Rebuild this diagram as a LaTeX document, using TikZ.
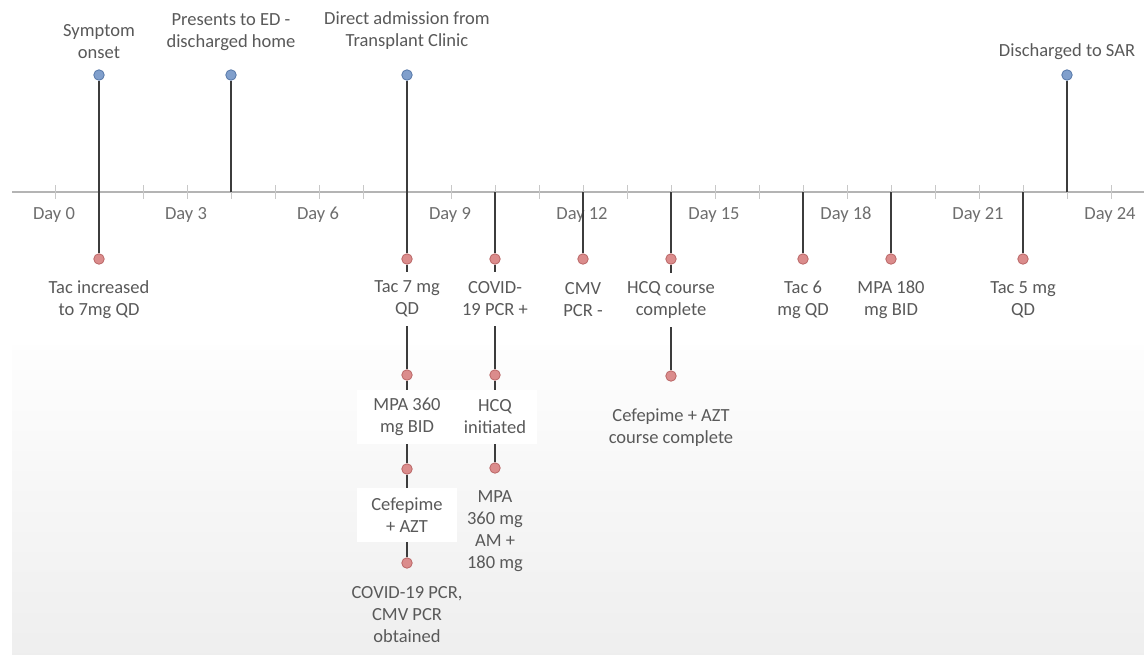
\documentclass[tikz,border=0pt]{standalone}
\usepackage{fontspec}
\setmainfont{Carlito}
\definecolor{txt}{HTML}{595959}
\definecolor{daytxt}{HTML}{6E6E6E}
\definecolor{stemcol}{HTML}{3C3C3C}
\definecolor{axiscol}{HTML}{B4B4B4}
\definecolor{tickcol}{HTML}{C8C8C8}
\definecolor{bluefill}{HTML}{809FCC}
\definecolor{blueline}{HTML}{5577A8}
\definecolor{redfill}{HTML}{DB8C8C}
\definecolor{redline}{HTML}{BA6666}
\begin{document}
\begin{tikzpicture}[x=1pt,y=-1pt,
  font=\fontsize{18.5}{22}\selectfont,
  lbl/.style={text=txt,align=center,inner sep=2pt},
  gaplbl/.style={lbl,fill=white,minimum width=100pt,minimum height=54pt,inner sep=0pt},
  daylbl/.style={text=daytxt,inner sep=1pt},
  bdot/.style={circle,minimum size=10.5pt,inner sep=0pt,fill=bluefill,draw=blueline,line width=0.8pt},
  rdot/.style={circle,minimum size=10.5pt,inner sep=0pt,fill=redfill,draw=redline,line width=0.8pt},
  stem/.style={draw=stemcol,line width=1.6pt},
  axisline/.style={draw=axiscol,line width=1.3pt},
  tickmark/.style={draw=tickcol,line width=0.8pt}]
\useasboundingbox (0,0) rectangle (1144,654);
\fill[white] (0,0) rectangle (1144,654);
\shade[top color=white!99.5!black,bottom color=white!93.5!black] (12,345) rectangle (1144,654);

% axis and ticks
\draw[axisline] (12,192) -- (1144,192);
\foreach \d in {0,...,24}{\draw[tickmark] ({55+44*\d},185) -- ({55+44*\d},199);}
\foreach \d in {0,3,...,24}{\node[daylbl] (day\d) at ({54+44*\d},215) {Day \d};}

% axis coordinates
\coordinate (a1) at (99,192);
\coordinate (a4) at (231,192);
\coordinate (a8) at (407,192);
\coordinate (a10) at (495,192);
\coordinate (a12) at (583,192);
\coordinate (a14) at (671,192);
\coordinate (a17) at (803,192);
\coordinate (a19) at (891,192);
\coordinate (a22) at (1023,192);
\coordinate (a23) at (1067,192);

% dots above
\node[bdot] (t1) at (99,75) {};
\node[bdot] (t4) at (231,75) {};
\node[bdot] (t8) at (407,75) {};
\node[bdot] (t23) at (1067,75) {};

% dots below
\node[rdot] (b1) at (99,259) {};
\node[rdot] (b8a) at (407,259) {};
\node[rdot] (b8b) at (407,375) {};
\node[rdot] (b8c) at (407,469) {};
\node[rdot] (b8d) at (407,563) {};
\node[rdot] (b10a) at (495,259) {};
\node[rdot] (b10b) at (495,375) {};
\node[rdot] (b10c) at (495,468) {};
\node[rdot] (b12) at (583,259) {};
\node[rdot] (b14a) at (671,259) {};
\node[rdot] (b14b) at (671,376) {};
\node[rdot] (b17) at (803,259) {};
\node[rdot] (b19) at (891,259) {};
\node[rdot] (b22) at (1023,259) {};

% stems
\draw[stem] (t1) -- (a1);
\draw[stem] (a1) -- (b1);
\draw[stem] (t4) -- (a4);
\draw[stem] (t8) -- (a8);
\draw[stem] (a8) -- (b8a);
\draw[stem] (b8a) -- (b8b);
\draw[stem] (b8b) -- (b8c);
\draw[stem] (b8c) -- (b8d);
\draw[stem] (a10) -- (b10a);
\draw[stem] (b10a) -- (b10b);
\draw[stem] (b10b) -- (b10c);
\draw[stem] (a12) -- (b12);
\draw[stem] (a14) -- (b14a);
\draw[stem] (b14a) -- (b14b);
\draw[stem] (a17) -- (b17);
\draw[stem] (a19) -- (b19);
\draw[stem] (a22) -- (b22);
\draw[stem] (t23) -- (a23);

% labels above
\node[lbl] (l1) at (99,42) {Symptom\\onset};
\node[lbl] (l4) at (231,32) {Presents to ED -\\discharged home};
\node[lbl] (l8) at (407,31) {Direct admission from\\Transplant Clinic};
\node[lbl] (l23) at (1067,52) {Discharged to SAR};

% labels below
\node[lbl] (m1) at (99,300) {Tac increased\\to 7mg QD};
\node[gaplbl] (m8a) at (407,299) {Tac 7 mg\\QD};
\node[gaplbl] (m8b) at (407,417) {MPA 360\\mg BID};
\node[gaplbl] (m8c) at (407,515) {Cefepime\\+ AZT};
\node[lbl] (m8d) at (407,615) {COVID-19 PCR,\\CMV PCR\\obtained};
\node[gaplbl,minimum width=84pt] (m10a) at (495,299) {COVID-\\19 PCR +};
\node[gaplbl,minimum width=84pt] (m10b) at (495,417) {HCQ\\initiated};
\node[lbl] (m10c) at (495,531) {MPA\\360 mg\\AM +\\180 mg};
\node[lbl] (m12) at (583,300) {CMV\\PCR -};
\node[gaplbl] (m14a) at (671,300) {HCQ course\\complete};
\node[lbl] (m14b) at (671,428) {Cefepime + AZT\\course complete};
\node[lbl] (m17) at (803,300) {Tac 6\\mg QD};
\node[lbl] (m19) at (891,300) {MPA 180\\mg BID};
\node[lbl] (m22) at (1023,300) {Tac 5 mg\\QD};
\end{tikzpicture}
\end{document}
